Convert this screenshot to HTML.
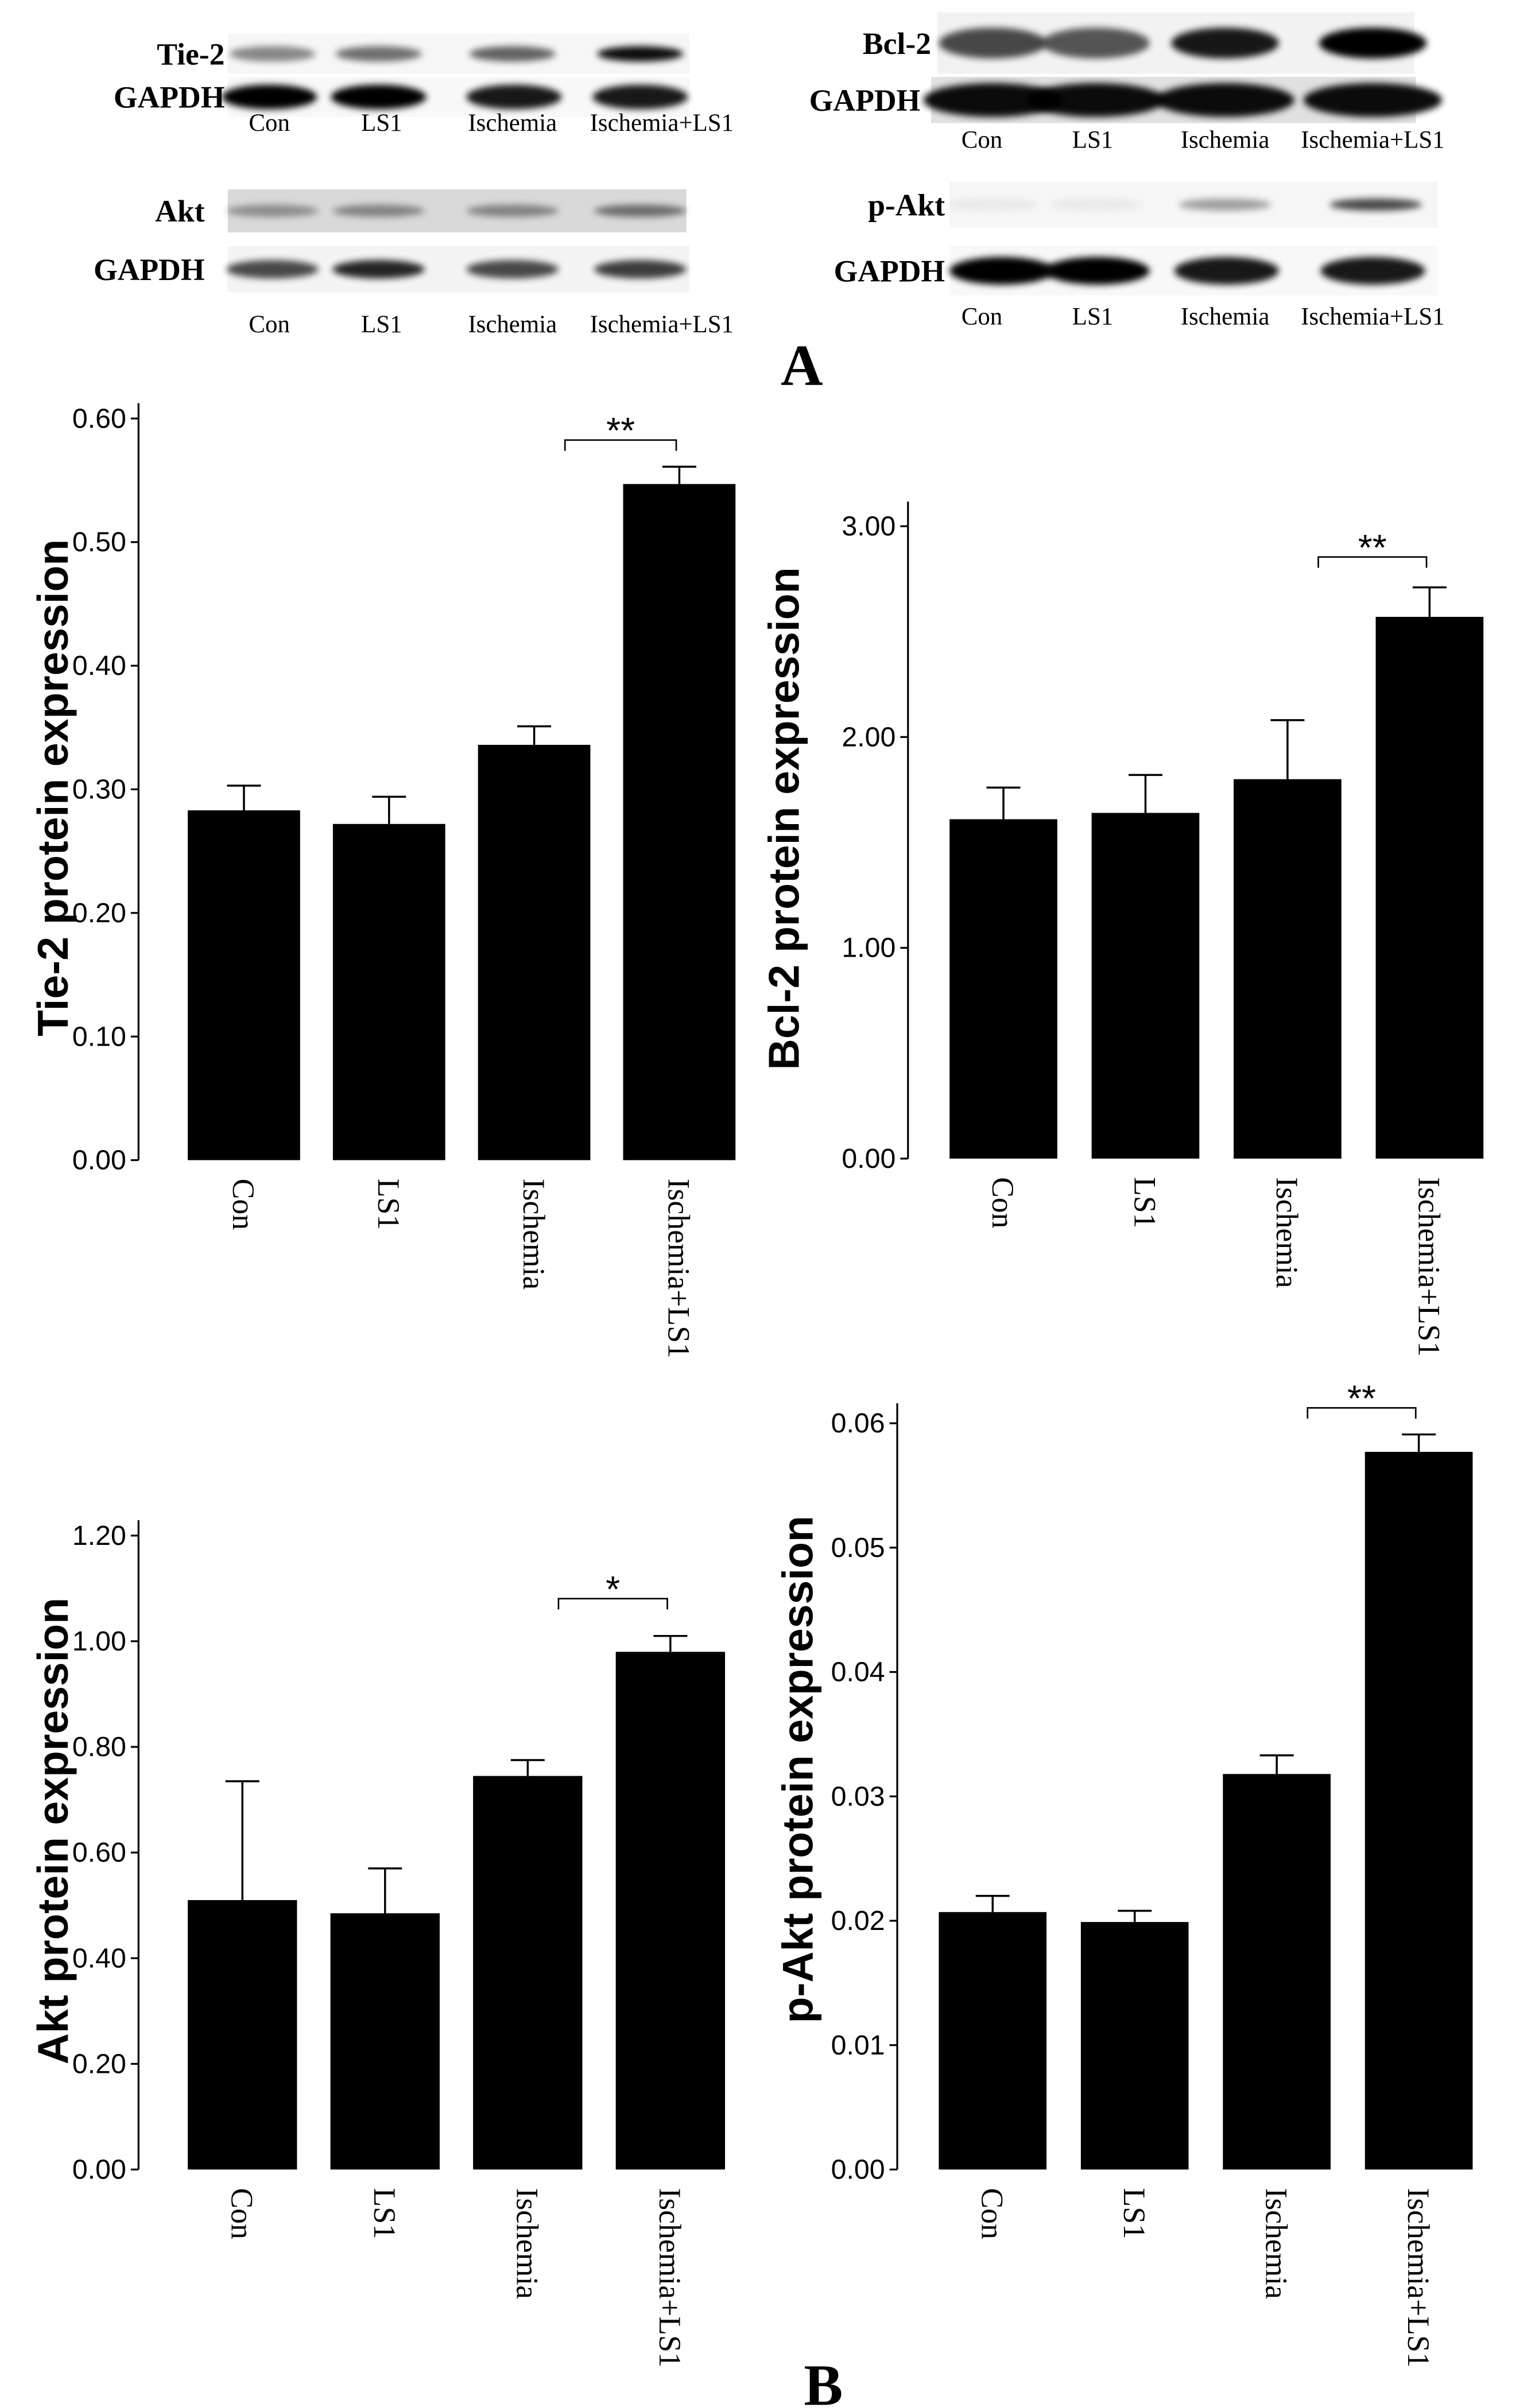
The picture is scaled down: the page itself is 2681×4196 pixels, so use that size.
<!DOCTYPE html>
<html><head><meta charset="utf-8"><style>
html,body{margin:0;padding:0;background:#fff}
svg{display:block}
.ser{font-family:"Liberation Serif",serif}
.sans{font-family:"Liberation Sans",sans-serif}
</style></head><body>
<svg id="fig" width="2681" height="4196" viewBox="0 0 1000 1565" preserveAspectRatio="none" xmlns="http://www.w3.org/2000/svg">
<defs><filter id="bl" x="-20%" y="-50%" width="140%" height="200%"><feGaussianBlur stdDeviation="2.2"/></filter></defs>
<rect width="1000" height="1565" fill="#fff"/>
<g id="blots"></g>
<text x="521" y="250" class="ser" font-size="38" font-weight="bold" text-anchor="middle">A</text>
<text x="535" y="1563" class="ser" font-size="38" font-weight="bold" text-anchor="middle">B</text>
<g id="charts"></g>
</svg>
<script>
const categories = ["Con","LS1","Ischemia","Ischemia+LS1"];
const tieValues = [0.283,0.272,0.336,0.547];
const tieErrors = [0.020,0.022,0.015,0.014];
const tieTicks = ["0.00","0.10","0.20","0.30","0.40","0.50","0.60"];
const bclValues = [1.61,1.64,1.80,2.57];
const bclErrors = [0.15,0.18,0.28,0.14];
const bclTicks = ["0.00","1.00","2.00","3.00"];
const aktValues = [0.51,0.485,0.745,0.98];
const aktErrors = [0.225,0.085,0.03,0.03];
const aktTicks = ["0.00","0.20","0.40","0.60","0.80","1.00","1.20"];
const paktValues = [0.0207,0.0199,0.0318,0.0577];
const paktErrors = [0.0013,0.0009,0.0015,0.0014];
const paktTicks = ["0.00","0.01","0.02","0.03","0.04","0.05","0.06"];

const NS="http://www.w3.org/2000/svg";
function mk(parent,tag,attrs,text){const e=document.createElementNS(NS,tag);for(const k in attrs)e.setAttribute(k,attrs[k]);if(text!==undefined)e.textContent=text;parent.appendChild(e);return e;}

function chart(cfg){
  const g=mk(document.getElementById('charts'),'g',{});
  
  
  const ticks=cfg.ticks.map(Number);
  const tmin=ticks[0],tmax=ticks[ticks.length-1];
  const y=v=>cfg.y0+(v-tmin)/(tmax-tmin)*(cfg.yTop-cfg.y0);
  const ax=mk(g,'line',{x1:cfg.ax,x2:cfg.ax,y1:cfg.axTop,y2:cfg.y0,stroke:'#000','stroke-width':1.2});
  
  
  cfg.ticks.forEach((t,i)=>{
    const yy=y(ticks[i]);
    const tk=mk(g,'line',{x1:cfg.ax-5,x2:cfg.ax,y1:yy,y2:yy,stroke:'#000','stroke-width':1.2});
    
    
    const tl=mk(g,'text',{x:cfg.ax-8,y:yy+6,'text-anchor':'end','font-size':18,class:'sans'},t);
    
    
  });
  const bw=cfg.bw, step=cfg.step;
  cfg.values.forEach((v,i)=>{
    const x0=cfg.bx+i*step, cx=x0+bw/2;
    const r=mk(g,'rect',{x:x0,y:y(v),width:bw,height:cfg.y0-y(v),fill:'#000'});
    
    
    const te=y(v+cfg.errors[i]);
    const e=mk(g,'path',{d:`M${cx},${y(v)} V${te} M${cx-11},${te} H${cx+11}`,stroke:'#000','stroke-width':1.3,fill:'none'});
    
    
    const lab=mk(g,'text',{x:0,y:0,transform:`translate(${cx-7},${cfg.y0+12}) rotate(90)`,'font-size':20,class:'ser'},categories[i]);
    
    
  });
  const bl=cfg.bx+2*step+bw/2+20, br=cfg.bx+3*step+bw/2-2, by=cfg.brY;
  const b=mk(g,'path',{d:`M${bl},${by+7} V${by} H${br} V${by+7}`,stroke:'#000','stroke-width':1,fill:'none'});
  
  
  const s=mk(g,'text',{x:(bl+br)/2,y:by+2,'text-anchor':'middle','font-size':24,class:'sans'},cfg.star);
  
  
  const yl=mk(g,'text',{x:0,y:0,transform:`translate(${cfg.labX},${cfg.labY}) rotate(-90)`,'text-anchor':'middle','font-size':28,'font-weight':'bold',class:'sans'},cfg.title);
  
  
}
chart({name:'tie2-chart',values:tieValues,errors:tieErrors,ticks:tieTicks,ax:90,axTop:262,y0:754,yTop:272,bx:122,bw:73,step:94.3,brY:286,star:'**',labX:44,labY:512,title:'Tie-2 protein expression'});
chart({name:'bcl2-chart',values:bclValues,errors:bclErrors,ticks:bclTicks,ax:590,axTop:326,y0:753,yTop:342,bx:617,bw:70,step:92.3,brY:362,star:'**',labX:519,labY:532,title:'Bcl-2 protein expression'});
chart({name:'akt-chart',values:aktValues,errors:aktErrors,ticks:aktTicks,ax:90,axTop:988,y0:1410,yTop:998,bx:122,bw:71,step:92.7,brY:1039,star:'*',labX:44,labY:1190,title:'Akt  protein expression'});
chart({name:'pakt-chart',values:paktValues,errors:paktErrors,ticks:paktTicks,ax:583,axTop:912,y0:1410,yTop:925,bx:610,bw:70,step:92.3,brY:915,star:'**',labX:528,labY:1150,title:'p-Akt  protein expression'});

// blots
const blotG=document.getElementById('blots');
function blot(name,x,y,w,h,bg,centers,bw,bh,ops,label,lx){
  const g=mk(blotG,'g',{});
  
  
  mk(g,'rect',{x:x,y:y,width:w,height:h,fill:bg});
  centers.forEach((c,i)=>{mk(g,'ellipse',{cx:c,cy:y+h/2,rx:bw,ry:bh,fill:'#000',opacity:ops[i],filter:'url(#bl)'});});
  const t=mk(g,'text',{x:lx,y:y+h/2+7,'text-anchor':'end','font-size':20,'font-weight':'bold',class:'ser'},label);
  
  
}
function lanes(y,xs){xs.forEach((x,i)=>{const t=mk(blotG,'text',{x:x,y:y,'text-anchor':'middle','font-size':16,class:'ser'},categories[i]);
  
  });}
const L=[175,248,333,430], R=[638,710,796,892];
blot('tie2-blot',148,22,300,26,'#f6f6f6',[177,246,333,416],28,5,[0.45,0.55,0.6,0.95],'Tie-2',146);
blot('gapdh-blot-1',148,50,300,26,'#f8f8f8',[175,246,334,416],31,8,[1,1,0.9,0.9],'GAPDH',146);
lanes(85,L);
blot('bcl2-blot',609,8,310,40,'#f2f2f2',[645,712,796,892],35,10,[0.7,0.65,0.9,1],'Bcl-2',605);
blot('gapdh-blot-2',605,50,315,30,'#e0e0e0',[645,712,796,892],45,11,[0.95,0.95,0.95,0.95],'GAPDH',598);
lanes(96,R);
blot('akt-blot',148,123,298,28,'#d9d9d9',[177,246,333,416],30,4,[0.35,0.4,0.4,0.5],'Akt',133);
blot('gapdh-blot-3',148,160,300,30,'#f4f4f4',[177,246,333,416],30,6,[0.7,0.85,0.7,0.75],'GAPDH',133);
lanes(216,L);
blot('pakt-blot',617,118,317,30,'#f6f6f6',[645,712,796,894],30,4,[0.05,0.05,0.35,0.7],'p-Akt',614);
blot('gapdh-blot-4',617,160,317,32,'#f8f8f8',[651,713,797,892],34,9,[1,1,0.9,0.9],'GAPDH',614);
lanes(211,R);
</script>
</body></html>
